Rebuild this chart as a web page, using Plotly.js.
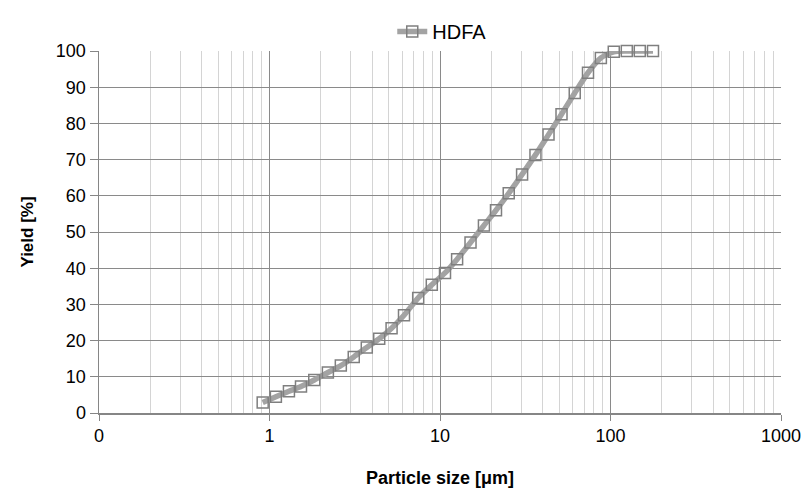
<!DOCTYPE html>
<html>
<head>
<meta charset="utf-8">
<script src="https://cdn.plot.ly/plotly-3.0.1.min.js"></script>
<style>html,body{margin:0;padding:0;background:#fff;}#chart{width:811px;height:491px;}</style>
</head>
<body>
<div id="chart"></div>
<script>
// Data
const seriesName = "HDFA";
const particleSize = [0.912, 1.09, 1.30, 1.53, 1.83, 2.20, 2.62, 3.12, 3.72, 4.40, 5.20, 6.15,
  7.45, 8.95, 10.7, 12.6, 15.1, 18.1, 21.3, 25.3, 30.3, 36.3, 43.3, 51.6, 61.7, 73.8, 87.8,
  104.5, 124.6, 148.5, 177.5];
const yieldPct = [2.9, 4.5, 6.0, 7.3, 9.1, 11.2, 13.1, 15.5, 18.1, 20.5, 23.4, 27.0,
  31.8, 35.4, 38.7, 42.5, 47.1, 51.8, 56.0, 60.7, 65.9, 71.3, 76.9, 82.5, 88.4, 94.0, 98.1,
  99.8, 100, 100, 100];
const xTickVals = [0.1, 1, 10, 100, 1000];
const xTickText = ["0", "1", "10", "100", "1000"];
const yTickVals = [0, 10, 20, 30, 40, 50, 60, 70, 80, 90, 100];

const font = "Liberation Sans, Arial, sans-serif";

const trace = {
  x: particleSize,
  y: yieldPct,
  name: seriesName,
  type: "scatter",
  mode: "lines+markers",
  line: {color: "#a3a3a3", width: 5.5, shape: "spline", smoothing: 0.6},
  marker: {symbol: "square-open", size: 11, color: "#7f7f7f", line: {width: 1.5, color: "#7f7f7f"}},
  cliponaxis: false
};

const layout = {
  width: 811, height: 491,
  margin: {l: 99, r: 30, t: 48, b: 78},
  paper_bgcolor: "#ffffff",
  plot_bgcolor: "#ffffff",
  font: {family: font, size: 18, color: "#000"},
  showlegend: true,
  legend: {orientation: "h", x: 0.43, xanchor: "left", y: 1.0, yanchor: "bottom",
    font: {family: font, size: 20, color: "#000"}, bgcolor: "rgba(0,0,0,0)"},
  xaxis: {
    type: "log",
    range: [-1, 3],
    tickmode: "array",
    tickvals: xTickVals,
    ticktext: xTickText,
    ticks: "outside", ticklen: 6, tickwidth: 1, tickcolor: "#868686",
    showgrid: true, gridcolor: "#8a8a8a", gridwidth: 1,
    minor: {dtick: "D1", showgrid: true, gridcolor: "#d4d4d4", gridwidth: 1, ticks: ""},
    showline: true, linecolor: "#868686", linewidth: 1.5,
    zeroline: false,
    tickfont: {family: font, size: 18, color: "#000"},
    title: {text: "<b>Particle size [μm]</b>", font: {family: font, size: 18, color: "#000"}, standoff: 26}
  },
  yaxis: {
    range: [0, 100],
    tickmode: "array",
    tickvals: yTickVals,
    ticks: "outside", ticklen: 8, tickwidth: 1, tickcolor: "#868686",
    showgrid: true, gridcolor: "#8a8a8a", gridwidth: 1,
    showline: true, linecolor: "#868686", linewidth: 1.5,
    zeroline: false,
    tickfont: {family: font, size: 18, color: "#000"},
    title: {text: "<b>Yield [%]</b>", font: {family: font, size: 17, color: "#000"}, standoff: 18}
  }
};

Plotly.newPlot("chart", [trace], layout, {displayModeBar: false, staticPlot: true});
</script>
</body>
</html>
